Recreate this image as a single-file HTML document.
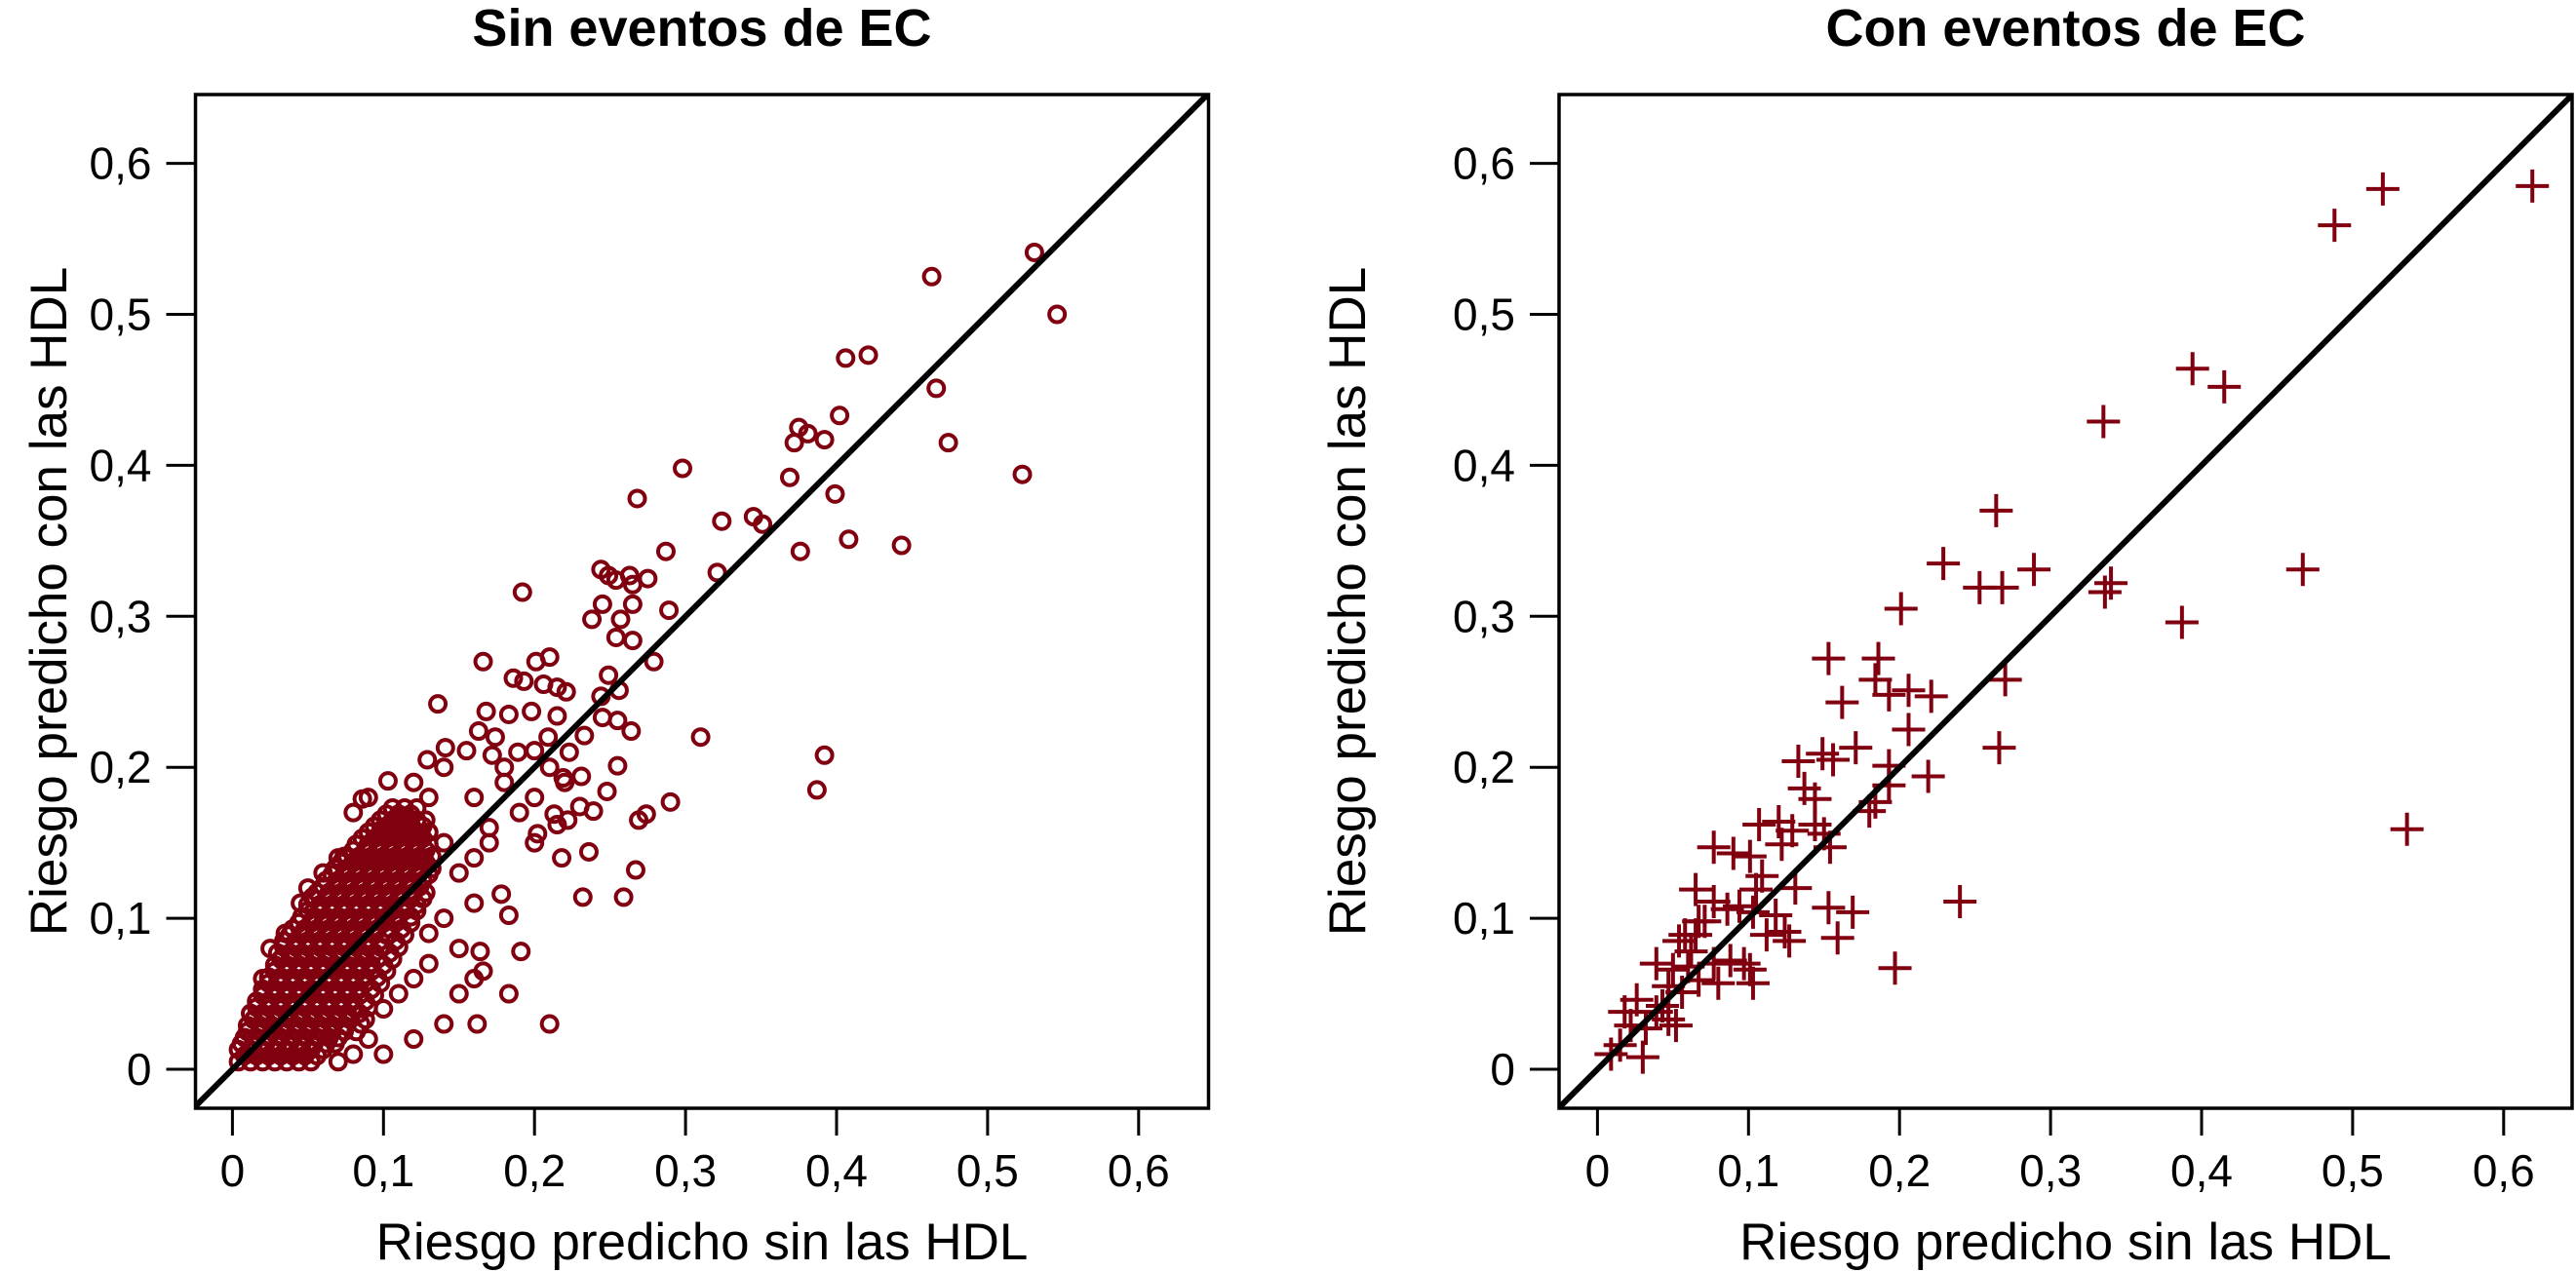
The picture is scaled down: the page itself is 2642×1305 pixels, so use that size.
<!DOCTYPE html>
<html><head><meta charset="utf-8"><style>
html,body{margin:0;padding:0;background:#fff;}
svg{display:block;font-family:"Liberation Sans",Arial,sans-serif;}
</style></head><body>
<svg id="chart" width="2642" height="1305" viewBox="0 0 2642 1305" xmlns="http://www.w3.org/2000/svg">
<defs>
<clipPath id="clipL"><rect x="200.5" y="97" width="1038.5" height="1040"/></clipPath>
<clipPath id="clipR"><rect x="1599" y="97" width="1039" height="1040"/></clipPath>
</defs>
<g id="panelL"></g>
<g id="panelR"></g>
</svg>
<script>
const tickValues = [0, 0.1, 0.2, 0.3, 0.4, 0.5, 0.6];
const tickLabels = ["0", "0,1", "0,2", "0,3", "0,4", "0,5", "0,6"];
const titles = ["Sin eventos de EC", "Con eventos de EC"];
const xAxisTitle = "Riesgo predicho sin las HDL";
const yAxisTitle = "Riesgo predicho con las HDL";

// Left panel (no events): dense core rows [y, [x...]]
const sinCoreRows = [
 [0.005,[0.004,0.012,0.020,0.028,0.036,0.044,0.052]],
 [0.013,[0.004,0.012,0.020,0.028,0.036,0.044,0.052,0.060]],
 [0.021,[0.008,0.016,0.024,0.032,0.040,0.048,0.056,0.064,0.070]],
 [0.029,[0.010,0.018,0.026,0.034,0.042,0.050,0.058,0.066,0.074]],
 [0.037,[0.012,0.020,0.028,0.036,0.044,0.052,0.060,0.068,0.076,0.084]],
 [0.045,[0.016,0.024,0.032,0.040,0.048,0.056,0.064,0.072,0.080,0.088]],
 [0.053,[0.020,0.028,0.036,0.044,0.052,0.060,0.068,0.076,0.084,0.092]],
 [0.061,[0.024,0.032,0.040,0.048,0.056,0.064,0.072,0.080,0.088,0.096]],
 [0.069,[0.028,0.036,0.044,0.052,0.060,0.068,0.076,0.084,0.092,0.100]],
 [0.077,[0.030,0.038,0.046,0.054,0.062,0.070,0.078,0.086,0.094,0.104]],
 [0.085,[0.034,0.042,0.050,0.058,0.066,0.074,0.082,0.090,0.098,0.108]],
 [0.093,[0.040,0.048,0.056,0.064,0.072,0.080,0.088,0.096,0.104,0.112]],
 [0.101,[0.046,0.054,0.062,0.070,0.078,0.086,0.094,0.102,0.110,0.118]],
 [0.109,[0.050,0.058,0.066,0.074,0.082,0.090,0.098,0.106,0.114,0.122]],
 [0.117,[0.056,0.064,0.072,0.080,0.088,0.096,0.104,0.112,0.120,0.128]],
 [0.125,[0.062,0.070,0.078,0.086,0.094,0.102,0.110,0.118,0.126]],
 [0.133,[0.068,0.076,0.084,0.092,0.100,0.108,0.116,0.124,0.132]],
 [0.141,[0.076,0.084,0.092,0.100,0.108,0.116,0.124,0.132]],
 [0.149,[0.082,0.090,0.098,0.106,0.114,0.122,0.130]],
 [0.157,[0.090,0.098,0.106,0.114,0.122,0.130]],
 [0.165,[0.098,0.106,0.114,0.122,0.128]],
 [0.173,[0.106,0.114,0.122]]
];
// interleaved rows filling gaps in the core
const sinCoreRows2 = [
 [0.009,[0.008,0.016,0.024,0.032,0.040,0.048,0.056]],
 [0.017,[0.006,0.014,0.022,0.030,0.038,0.046,0.054,0.062,0.068]],
 [0.025,[0.010,0.018,0.026,0.034,0.042,0.050,0.058,0.066,0.074,0.082]],
 [0.033,[0.014,0.022,0.030,0.038,0.046,0.054,0.062,0.070,0.078,0.088]],
 [0.041,[0.016,0.024,0.032,0.040,0.048,0.056,0.064,0.072,0.080,0.090]],
 [0.049,[0.020,0.028,0.036,0.044,0.052,0.060,0.068,0.076,0.084,0.094]],
 [0.057,[0.024,0.032,0.040,0.048,0.056,0.064,0.072,0.080,0.088,0.098]],
 [0.065,[0.028,0.036,0.044,0.052,0.060,0.068,0.076,0.084,0.092,0.102]],
 [0.073,[0.032,0.040,0.048,0.056,0.064,0.072,0.080,0.088,0.096,0.106]],
 [0.081,[0.034,0.042,0.050,0.058,0.066,0.074,0.082,0.090,0.098,0.110]],
 [0.089,[0.038,0.046,0.054,0.062,0.070,0.078,0.086,0.094,0.102,0.114]],
 [0.097,[0.044,0.052,0.060,0.068,0.076,0.084,0.092,0.100,0.108,0.118]],
 [0.105,[0.050,0.058,0.066,0.074,0.082,0.090,0.098,0.106,0.114,0.122]],
 [0.113,[0.054,0.062,0.070,0.078,0.086,0.094,0.102,0.110,0.118,0.126]],
 [0.121,[0.060,0.068,0.076,0.084,0.092,0.100,0.108,0.116,0.124]],
 [0.129,[0.066,0.074,0.082,0.090,0.098,0.106,0.114,0.122,0.130]],
 [0.137,[0.072,0.080,0.088,0.096,0.104,0.112,0.120,0.128]],
 [0.145,[0.080,0.088,0.096,0.104,0.112,0.120,0.128]],
 [0.153,[0.086,0.094,0.102,0.110,0.118,0.126]],
 [0.161,[0.094,0.102,0.110,0.118,0.126]],
 [0.169,[0.102,0.110,0.118]]
];
// Left panel scattered points
const sinX = [0.531,0.463,0.546,0.406,0.421,0.466,0.402,0.375,0.381,0.372,0.392,0.474,0.523,0.298,0.369,0.399,0.268,0.324,0.345,0.351,0.408,0.443,0.376,0.287,0.321,0.192,0.244,0.249,0.263,0.275,0.254,0.265,0.245,0.265,0.289,0.238,0.257,0.254,0.265,0.279,0.166,0.201,0.210,0.249,0.136,0.186,0.193,0.206,0.215,0.221,0.244,0.256,0.168,0.183,0.198,0.215,0.245,0.255,0.264,0.310,0.392,0.387,0.163,0.174,0.209,0.233,0.141,0.129,0.155,0.172,0.189,0.200,0.223,0.255,0.248,0.231,0.219,0.290,0.274,0.269,0.239,0.230,0.222,0.213,0.215,0.202,0.236,0.218,0.267,0.232,0.259,0.191,0.183,0.162,0.210,0.166,0.164,0.086,0.103,0.074,0.053,0.178,0.183,0.18,0.19,0.20,0.17,0.20,0.22,0.21,0.16,0.18,0.13,0.14,0.12,0.10,0.09,0.08,0.07,0.11,0.13,0.15,0.16,0.15,0.14,0.07,0.06,0.045,0.08,0.09,0.12,0.14,0.13,0.10,0.05,0.035,0.025,0.02,0.16,0.17,0.15,0.16,0.14,0.12,0.10,0.085];
const sinY = [0.541,0.525,0.500,0.471,0.473,0.451,0.433,0.425,0.421,0.415,0.417,0.415,0.394,0.398,0.392,0.381,0.378,0.363,0.366,0.361,0.351,0.347,0.343,0.343,0.329,0.316,0.331,0.327,0.327,0.325,0.324,0.321,0.308,0.308,0.304,0.298,0.298,0.286,0.284,0.270,0.270,0.270,0.273,0.261,0.242,0.259,0.257,0.255,0.253,0.250,0.247,0.251,0.237,0.235,0.237,0.234,0.233,0.231,0.224,0.220,0.208,0.185,0.224,0.220,0.220,0.221,0.213,0.205,0.211,0.208,0.210,0.211,0.210,0.201,0.184,0.194,0.193,0.177,0.169,0.165,0.171,0.174,0.165,0.169,0.162,0.156,0.144,0.140,0.132,0.114,0.114,0.078,0.050,0.030,0.030,0.065,0.078,0.179,0.191,0.141,0.114,0.116,0.102,0.19,0.17,0.18,0.16,0.15,0.19,0.20,0.18,0.20,0.09,0.10,0.06,0.04,0.02,0.01,0.005,0.05,0.07,0.08,0.11,0.13,0.15,0.14,0.13,0.11,0.17,0.18,0.19,0.20,0.18,0.16,0.12,0.09,0.08,0.06,0.14,0.15,0.05,0.06,0.03,0.02,0.01,0.03];

// Right panel (with events)
const conX = [0.619,0.520,0.488,0.394,0.415,0.335,0.264,0.229,0.289,0.253,0.268,0.336,0.340,0.467,0.387,0.201,0.153,0.186,0.270,0.184,0.193,0.206,0.221,0.162,0.206,0.266,0.171,0.149,0.133,0.156,0.193,0.219,0.193,0.137,0.144,0.184,0.180,0.107,0.120,0.129,0.144,0.150,0.154,0.122,0.077,0.090,0.101,0.536,0.240,0.197,0.159,0.153,0.169,0.109,0.105,0.131,0.065,0.077,0.086,0.094,0.103,0.118,0.124,0.112,0.127,0.067,0.058,0.062,0.039,0.050,0.060,0.077,0.088,0.101,0.103,0.097,0.047,0.056,0.067,0.080,0.026,0.018,0.039,0.047,0.022,0.032,0.052,0.043,0.009,0.030,0.015,0.065,0.071,0.054];
const conY = [0.585,0.583,0.559,0.464,0.452,0.429,0.370,0.335,0.331,0.319,0.319,0.316,0.322,0.331,0.296,0.305,0.272,0.272,0.258,0.258,0.248,0.251,0.247,0.243,0.225,0.213,0.213,0.209,0.204,0.205,0.201,0.194,0.188,0.186,0.179,0.177,0.171,0.162,0.164,0.158,0.162,0.156,0.147,0.149,0.147,0.143,0.141,0.159,0.111,0.067,0.087,0.107,0.104,0.128,0.119,0.120,0.119,0.111,0.106,0.108,0.104,0.102,0.091,0.089,0.085,0.098,0.089,0.078,0.070,0.066,0.068,0.070,0.072,0.066,0.057,0.070,0.055,0.051,0.059,0.057,0.046,0.038,0.038,0.033,0.029,0.027,0.029,0.042,0.010,0.008,0.016,0.089,0.098,0.085];

const NS = "http://www.w3.org/2000/svg";
const COL = "#800010";
function mk(tag, attrs, parent) {
  const e = document.createElementNS(NS, tag);
  for (const k in attrs) e.setAttribute(k, attrs[k]);
  parent.appendChild(e);
  return e;
}

function panel(g, left, x0px, clip, title, yLabelX) {
  const right = left + 1039, top = 97, bottom = 1137, y0px = 1097, k = 1549;
  const sx = v => x0px + v * k;
  const sy = v => y0px - v * k;
  const marks = mk("g", {"clip-path": "url(#" + clip + ")"}, g);
  
  
  return {sx, sy, marks, finish: function() {
    const dl = mk("line", {x1: sx(-0.1), y1: sy(-0.1), x2: sx(0.8), y2: sy(0.8), stroke: "#000", "stroke-width": 6, "clip-path": "url(#" + clip + ")"}, g);
    
    
    const box = mk("rect", {x: left, y: top, width: right - left, height: bottom - top, fill: "none", stroke: "#000", "stroke-width": 3.5}, g);
    
    
    tickValues.forEach((v, i) => {
      const tx = mk("line", {x1: sx(v), y1: bottom, x2: sx(v), y2: bottom + 28, stroke: "#000", "stroke-width": 3}, g);
      
      
      const lx = mk("text", {x: sx(v), y: 1217, "font-size": 46, "text-anchor": "middle"}, g);
      lx.textContent = tickLabels[i];
      
      
      const ty = mk("line", {x1: left - 30, y1: sy(v), x2: left, y2: sy(v), stroke: "#000", "stroke-width": 3}, g);
      
      
      const ly = mk("text", {x: left - 45, y: sy(v) + 16, "font-size": 46, "text-anchor": "end"}, g);
      ly.textContent = tickLabels[i];
      
      
    });
    const t = mk("text", {x: (left + right) / 2, y: 47, "font-size": 54, "font-weight": "bold", "text-anchor": "middle"}, g);
    t.textContent = title;
    
    
    const xl = mk("text", {x: (left + right) / 2, y: 1292, "font-size": 53, "text-anchor": "middle"}, g);
    xl.textContent = xAxisTitle;
    
    
    const yl = mk("text", {x: yLabelX, y: (top + bottom) / 2, "font-size": 53, "text-anchor": "middle", transform: "rotate(-90 " + yLabelX + " " + (top + bottom) / 2 + ")"}, g);
    yl.textContent = yAxisTitle;
    
    
  }};
}

const gL = document.getElementById("panelL");
const L = panel(gL, 200.5, 238.4, "clipL", titles[0], 68);
function circ(x, y) {
  const c = mk("circle", {cx: L.sx(x), cy: L.sy(y), r: 8, fill: "none", stroke: COL, "stroke-width": 4}, L.marks);
  
  
}
sinCoreRows.forEach(row => row[1].forEach(x => circ(x, row[0])));
sinCoreRows2.forEach(row => row[1].forEach(x => circ(x, row[0])));
sinX.forEach((x, i) => circ(x, sinY[i]));
L.finish();

const gR = document.getElementById("panelR");
const R = panel(gR, 1599, 1638.4, "clipR", titles[1], 1400);
conX.forEach((x, i) => {
  const cx = R.sx(x), cy = R.sy(conY[i]);
  const p = mk("path", {d: "M" + (cx - 17) + " " + cy + "H" + (cx + 17) + "M" + cx + " " + (cy - 17) + "V" + (cy + 17), stroke: COL, "stroke-width": 4, fill: "none"}, R.marks);
  
  
});
R.finish();
</script>
</body></html>
